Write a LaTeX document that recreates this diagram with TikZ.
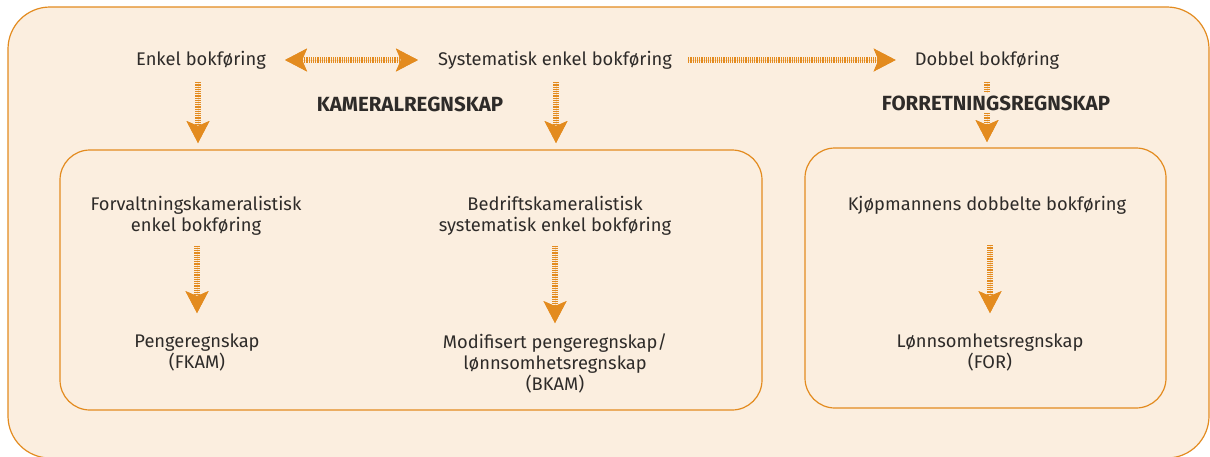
\documentclass[tikz,border=0pt]{standalone}
\usepackage{fontspec}
\setmainfont{Fira Sans}
\usetikzlibrary{positioning,arrows.meta,calc}
\definecolor{okker}{HTML}{E38B1F}
\definecolor{bakgr}{HTML}{FBEEDF}
\definecolor{tekst}{HTML}{2E2B29}

\begin{document}
\begin{tikzpicture}[x=1pt,y=-1pt,
  txt/.style={text=tekst,font=\fontsize{18.3}{21}\selectfont,align=center,inner sep=2pt},
  hode/.style={text=tekst,font=\fontsize{20.5}{21}\selectfont\bfseries,fill=bakgr,inner sep=3pt},
  boks/.style={draw=okker,line width=1.2pt,fill=bakgr,rounded corners=30pt},
  spiss/.tip={Stealth[length=22pt,width=23pt,inset=5pt,line width=0pt,color=okker]},
  pil/.style={draw=okker,line width=6pt,dash pattern=on 1.2pt off 1pt,-spiss,
    preaction={draw=okker!35,solid}},
  dpil/.style={pil,spiss-spiss}]
\useasboundingbox (0,0) rectangle (1210,456);
\fill[white] (0,0) rectangle (1210,456);
% rammer
\draw[boks,rounded corners=42pt] (8,7) rectangle (1209,458);
\draw[boks] (60,150) rectangle (762,410);
\draw[boks] (805,148) rectangle (1166,408);
\coordinate (k1) at (198,143);
\coordinate (k2) at (556,143);
\coordinate (f1) at (987,142);
% tekster
\node[txt] (enkel) at (201,60) {Enkel bokføring};
\node[txt] (syst) at (555,60) {Systematisk enkel bokføring};
\node[txt] (dobbel) at (987,60) {Dobbel bokføring};
\node[hode] (kam) at (410,104) {KAMERALREGNSKAP};
\node[txt] (forv) at (196,216) {Forvaltningskameralistisk\\enkel bokføring};
\node[txt] (bedr) at (555,216) {Bedriftskameralistisk\\systematisk enkel bokføring};
\node[txt] (kjop) at (987,205) {Kjøpmannens dobbelte bokføring};
\node[txt] (penge) at (197,352) {Pengeregnskap\\(FKAM)};
\node[txt] (modif) at (555,363) {Modifisert pengeregnskap/\\lønnsomhetsregnskap\\(BKAM)};
\node[txt] (lonn) at (990,352) {Lønnsomhetsregnskap\\(FOR)};
% piler
\draw[dpil,shorten <=17pt,shorten >=18pt] (enkel.east) -- (syst.west);
\draw[pil,shorten <=14pt,shorten >=17pt] (syst.east) -- (dobbel.west);
\draw[pil,shorten <=11pt] (enkel.south -| k1) -- (k1);
\draw[pil,shorten <=11pt] (syst.south -| k2) -- (k2);
\draw[pil,shorten <=11pt] (dobbel.south -| f1) -- (f1);
\draw[pil,shorten <=8pt,shorten >=18pt] (forv.south -| penge.north) -- (penge.north);
\draw[pil,shorten <=8pt,shorten >=8pt] (bedr.south) -- (modif.north);
\draw[pil,shorten <=29pt,shorten >=18pt] (kjop.south -| lonn.north) -- (lonn.north);
\node[hode] (forr) at (996,103) {FORRETNINGSREGNSKAP};
\end{tikzpicture}
\end{document}
